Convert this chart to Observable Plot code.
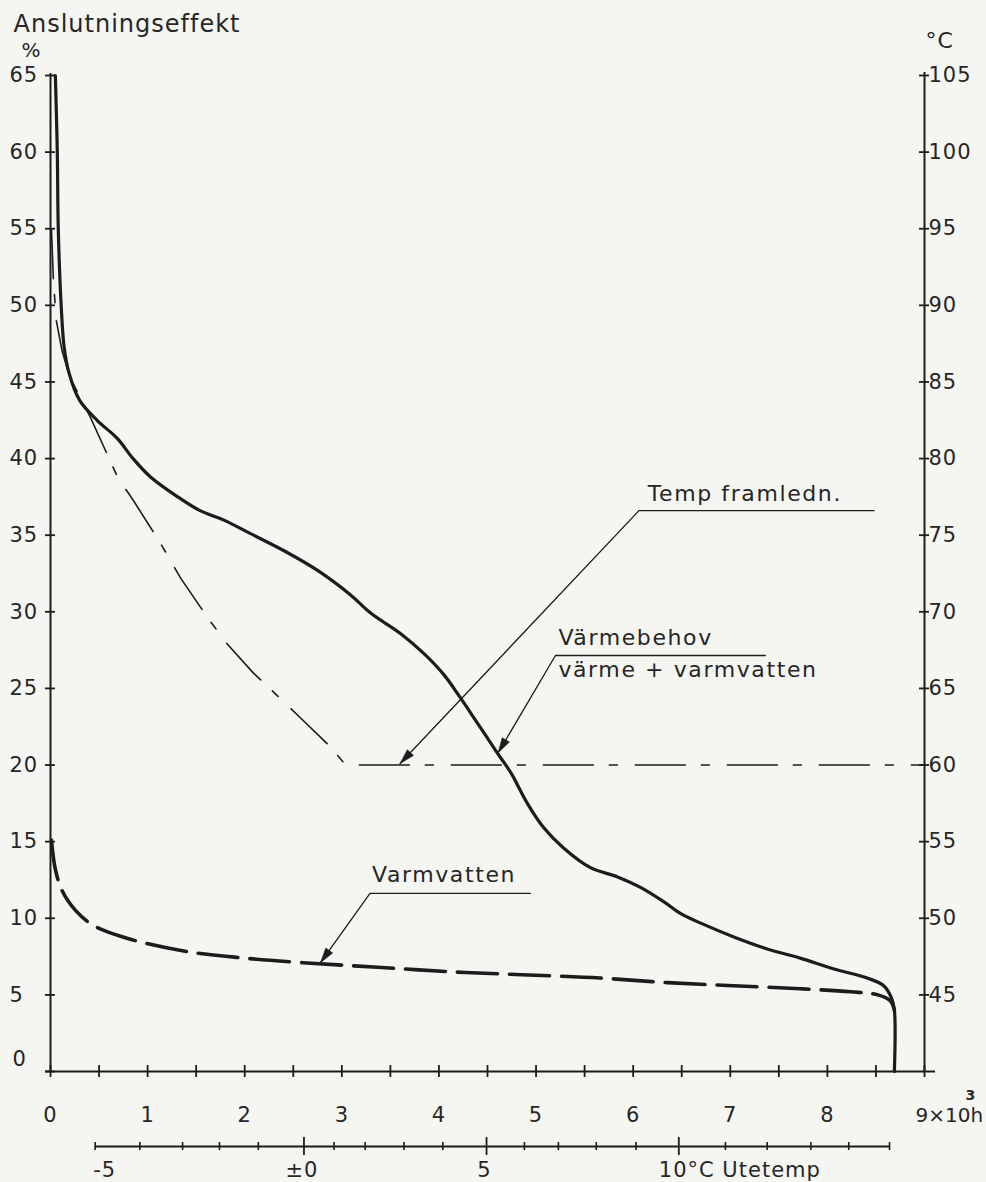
<!DOCTYPE html>
<html>
<head>
<meta charset="utf-8">
<script src="https://cdn.jsdelivr.net/npm/d3@7"></script>
<script src="https://cdn.jsdelivr.net/npm/@observablehq/plot@0.6"></script>
<style>
  html, body { margin: 0; padding: 0; background: #f5f5f2; }
  #chart { width: 986px; height: 1182px; }
  svg text { letter-spacing: 1px; }
  g[aria-description="anno"] text { letter-spacing: 1.6px; }
  g[aria-description="tight"] text { letter-spacing: 0px; }
</style>
</head>
<body>
<div id="chart"></div>
<script>
// ---------- DATA ----------
// Värmebehov (värme + varmvatten), % of connected load, vs hours (×10³ h)
const solidHours = [0.05,0.07,0.08,0.11,0.14,0.19,0.30,0.48,0.69,0.85,1.03,1.31,1.54,1.78,2.06,2.40,2.75,3.09,3.30,3.60,3.84,4.05,4.22,4.40,4.60,4.74,4.91,5.08,5.28,5.56,5.84,6.08,6.31,6.49,6.69,7.03,7.38,7.72,8.06,8.41,8.58,8.66,8.69,8.69];
const solidPct   = [65,60,55,50,47.3,45.6,43.8,42.5,41.3,40.0,38.8,37.5,36.6,36.0,35.1,34.0,32.7,31.1,29.9,28.6,27.3,25.9,24.4,22.7,20.8,19.5,17.5,15.9,14.6,13.3,12.7,12.0,11.1,10.3,9.7,8.8,8.0,7.4,6.7,6.1,5.6,4.8,4.0,0];

// Temp framledn. (supply temperature), °C on right axis
const supplyHours = [0.01,0.03,0.06,0.12,0.20,0.41,0.69,0.85,1.13,1.34,1.62,1.82,2.09,2.34,2.57,2.88,3.04,9.00];
const supplyTempC = [95,91.6,89,87,85.3,82.7,78.8,77.3,74.5,72.2,69.6,67.9,66.0,64.5,63.1,61.2,60,60];

// Varmvatten (hot water), %
const hwHours = [0.01,0.05,0.12,0.26,0.45,0.84,1.43,2.0,2.6,3.37,4.15,4.92,5.66,6.35,7.03,7.72,8.24,8.52,8.65,8.69];
const hwPct   = [15.1,13.2,11.8,10.5,9.5,8.6,7.8,7.4,7.1,6.8,6.5,6.3,6.1,5.8,5.6,5.4,5.2,5.0,4.6,4.0];

// Axes
const yTicks = [0,5,10,15,20,25,30,35,40,45,50,55,60,65];
const rightTicksC = [45,50,55,60,65,70,75,80,85,90,95,100,105];
const xTicks = [0,0.5,1,1.5,2,2.5,3,3.5,4,4.5,5,5.5,6,6.5,7,7.5,8,8.5,9];
const xLabels = [0,1,2,3,4,5,6,7,8];
const xLastValue = 9;
const xLastLabel = "9×10h";
const xLastExponent = "3";

// Outdoor temperature (Utetemp) scale placed along the hours axis
const tempTicks = [-5,-4,-3,-2,-1,0,1,2,3,4,5,6,7,8,9,10,11,12,13,14,15];
const tempHours = [0.46,0.92,1.36,1.74,2.14,2.61,2.92,3.24,3.64,4.04,4.49,4.88,5.23,5.62,6.03,6.47,6.95,7.38,7.83,8.22,8.64];
const tempMajor = [0,5,10];
const tempLabelTemps = [-5,0,5,10];
const tempLabelTexts = ["-5","±0","5","10°C Utetemp"];

// Annotations
const annoTexts = ["Temp framledn.","Värmebehov","värme + varmvatten","Varmvatten"];
const annoX = [6.15,5.23,5.23,3.31];
const annoY = [37.7,28.3,26.2,12.8];
const leaderEndX   = [8.48,7.36,4.94];
const leaderStartX = [6.06,5.20,3.29];
const leaderY      = [36.6,27.15,11.62];
const tipX = [3.60,4.61,2.78];
const tipY = [20.1,20.8,7.1];

// ---------- BUILD ----------
const ink = "#1c1c1c";
const textInk = "#262626";
const W = 986, H = 1182;
const mL = 50, mR = 62, mT = 75, mB = 111;

const solid = solidHours.map((h,i) => ({h, p: solidPct[i]}));
const supply = supplyHours.map((h,i) => ({h, c: supplyTempC[i]}));
const hw = hwHours.map((h,i) => ({h, p: hwPct[i]}));
const tempAt = t => tempHours[tempTicks.indexOf(t)];
const tempMinorHours = tempTicks.filter(t => !tempMajor.includes(t)).map(tempAt);
const tempMajorHours = tempMajor.map(tempAt);
const tempLabels = tempLabelTemps.map((t,i) => ({h: tempAt(t), text: tempLabelTexts[i]}));
const annos = annoTexts.map((text,i) => ({text, x: annoX[i], y: annoY[i]}));

const leaderPts = [];
leaderEndX.forEach((_, i) => {
  leaderPts.push({i, x: leaderEndX[i], y: leaderY[i]});
  leaderPts.push({i, x: leaderStartX[i], y: leaderY[i]});
  leaderPts.push({i, x: tipX[i], y: tipY[i]});
});

// same mapping as the plot's scales, used only to orient the arrowheads
const xs = d3.scaleLinear([0, 9], [mL, W - mR]);
const ys = d3.scaleLinear([0, 65], [H - mB, mT]);
function headSymbol(angleRad) {
  const L = 15, w = 4.2;
  const c = Math.cos(angleRad), s = Math.sin(angleRad);
  const rot = (px, py) => [px * c - py * s, px * s + py * c];
  return {
    draw(context) {
      const p0 = rot(0, 0), p1 = rot(w, L), p2 = rot(-w, L);
      context.moveTo(p0[0], p0[1]);
      context.lineTo(p1[0], p1[1]);
      context.lineTo(p2[0], p2[1]);
      context.closePath();
    }
  };
}
const headMarks = tipX.map((tx, i) => {
  const dx = xs(tx) - xs(leaderStartX[i]);
  const dy = ys(tipY[i]) - ys(leaderY[i]);
  const ang = Math.atan2(dx, -dy);
  return Plot.dot([{x: tx, y: tipY[i]}], {x: "x", y: "y", symbol: headSymbol(ang), r: 5, fill: ink, stroke: ink, strokeWidth: 0.6});
});

const T = {fill: textInk, fontWeight: 400};

const chart = Plot.plot({
  width: W, height: H,
  marginLeft: mL, marginRight: mR, marginTop: mT, marginBottom: mB,
  x: {domain: [0, 9], axis: null},
  y: {domain: [0, 65], axis: null},
  style: {background: "transparent", fontFamily: "'DejaVu Sans', sans-serif", fontSize: "21px", color: ink, overflow: "visible"},
  marks: [
    // axis lines
    Plot.ruleX([0], {stroke: ink, strokeWidth: 2, insetTop: -2}),
    Plot.ruleX([9], {stroke: ink, strokeWidth: 2, insetTop: -3}),
    Plot.ruleY([0], {stroke: ink, strokeWidth: 2, insetLeft: -5, insetRight: -11}),
    // left ticks & labels
    Plot.ruleY(yTicks, {y: d => d, x1: 0, x2: 0, insetLeft: -5, insetRight: -5, stroke: ink, strokeWidth: 1.8}),
    Plot.text(yTicks.filter(d => d !== 0), {...T, y: d => d, text: d => String(d), frameAnchor: "left", dx: -41, textAnchor: "start"}),
    Plot.text([0], {...T, y: d => d, text: d => String(d), frameAnchor: "left", dx: -38, dy: -12, textAnchor: "start"}),
    // right ticks & labels (°C)
    Plot.ruleY(rightTicksC, {y: d => d - 40, x1: 9, x2: 9, insetLeft: -5, insetRight: -5, stroke: ink, strokeWidth: 1.8}),
    Plot.text(rightTicksC, {...T, y: d => d - 40, text: d => String(d), frameAnchor: "right", dx: 4, textAnchor: "start"}),
    // bottom hours axis
    Plot.ruleX(xTicks, {x: d => d, y1: 0, y2: 0, insetTop: -6, insetBottom: -6, stroke: ink, strokeWidth: 1.8}),
    Plot.text(xLabels, {...T, x: d => d, text: d => String(d), frameAnchor: "bottom", dy: 44, lineAnchor: "middle"}),
    Plot.text([xLastValue], {...T, x: d => d, text: () => xLastLabel, frameAnchor: "bottom", dy: 44, dx: -9, textAnchor: "start", lineAnchor: "middle", fontSize: 20, ariaDescription: "tight"}),
    Plot.text([xLastValue], {...T, x: d => d, text: () => xLastExponent, frameAnchor: "bottom", dy: 24, dx: 41, textAnchor: "start", lineAnchor: "middle", fontSize: 14, fontWeight: 700}),
    // outdoor temperature scale
    Plot.ruleY([0], {x1: tempHours[0], x2: tempHours[tempHours.length - 1], dy: 75, stroke: ink, strokeWidth: 1.8}),
    Plot.ruleX(tempMinorHours, {x: d => d, y1: 0, y2: 0, dy: 75, insetTop: -4, insetBottom: -4, stroke: ink, strokeWidth: 1.6}),
    Plot.ruleX(tempMajorHours, {x: d => d, y1: 0, y2: 0, dy: 75, insetTop: -9, insetBottom: -9, stroke: ink, strokeWidth: 1.8}),
    Plot.text(tempLabels.slice(0, 1), {...T, x: "h", text: "text", frameAnchor: "bottom", dy: 99, dx: -2, textAnchor: "start", lineAnchor: "middle"}),
    Plot.text(tempLabels.slice(1, 3), {...T, x: "h", text: "text", frameAnchor: "bottom", dy: 99, dx: -2, lineAnchor: "middle"}),
    Plot.text(tempLabels.slice(3), {...T, x: "h", text: "text", frameAnchor: "bottom", dy: 99, dx: -20, textAnchor: "start", lineAnchor: "middle"}),
    // axis titles
    Plot.text(["Anslutningseffekt"], {...T, text: d => d, frameAnchor: "top-left", dx: -37, dy: -51, textAnchor: "start", lineAnchor: "middle", fontSize: 24}),
    Plot.text(["%"], {...T, text: d => d, frameAnchor: "top-left", dx: -19, dy: -25, textAnchor: "middle", lineAnchor: "middle", fontSize: 20}),
    Plot.text(["°C"], {...T, text: d => d, frameAnchor: "top-right", dx: 1, dy: -35, textAnchor: "start", lineAnchor: "middle", fontSize: 22}),
    // series
    Plot.line(supply, {x: "h", y: d => d.c - 40, curve: "linear", stroke: ink, strokeWidth: 1.6, strokeDasharray: "50,16,8,18"}),
    Plot.line(hw, {x: "h", y: "p", curve: "catmull-rom", stroke: ink, strokeWidth: 3.6, strokeDasharray: "40,12"}),
    Plot.line(solid, {x: "h", y: "p", curve: "catmull-rom", stroke: ink, strokeWidth: 3.2}),
    // annotations
    Plot.line(leaderPts, {x: "x", y: "y", z: "i", stroke: ink, strokeWidth: 1.3}),
    ...headMarks,
    Plot.text(annos, {...T, x: "x", y: "y", text: "text", textAnchor: "start", fontSize: 22, ariaDescription: "anno"})
  ]
});
document.getElementById("chart").appendChild(chart);
</script>
</body>
</html>
